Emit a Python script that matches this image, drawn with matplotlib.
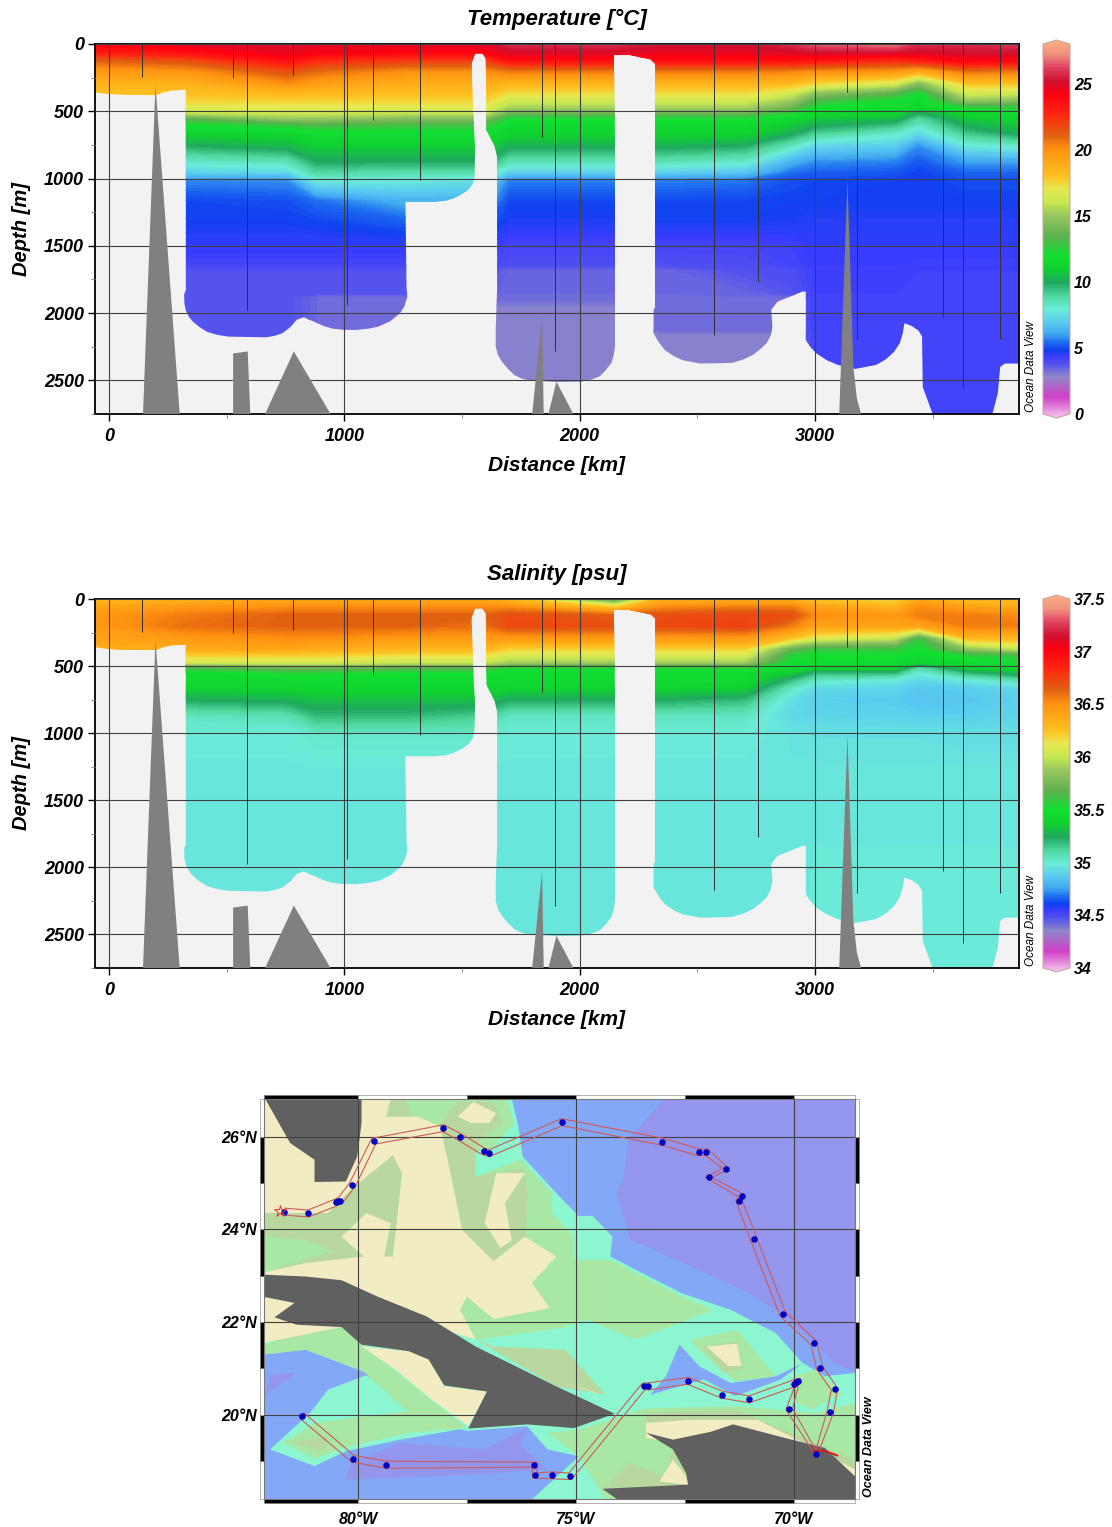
import numpy as np
import matplotlib
matplotlib.use('Agg')
import matplotlib.pyplot as plt
from matplotlib.colors import LinearSegmentedColormap
from matplotlib.patches import Polygon, Rectangle

plt.rcParams['font.family'] = ['Liberation Sans', 'DejaVu Sans']
plt.rcParams['font.weight'] = 'bold'
plt.rcParams['font.style'] = 'italic'
plt.rcParams['axes.titleweight'] = 'bold'
plt.rcParams['axes.labelweight'] = 'bold'

W, H = 1112, 1527

# section data
cols = [-60, 320, 760, 880, 1260, 1600, 1700, 2150, 2350, 2700, 2900, 3000, 3340, 3440, 3650, 3867]

temp_depths = [0, 60, 120, 200, 290, 370, 420, 470, 510, 550, 600, 660, 750, 870, 950, 1010, 1160, 1300,
               1500, 1640, 1680, 1850, 1880, 1950, 2120, 2150, 2750]
temp_rows = [
    [24.0, 24.5, 24.8, 24.5, 24.5, 24.5, 25.5, 25.5, 25.0, 25.0, 25.5, 26.3, 26.8, 25.5, 25.5, 25.8],
    [23.0, 23.5, 24.5, 24.2, 24.0, 24.0, 24.8, 24.8, 24.5, 24.5, 24.8, 25.0, 25.0, 24.8, 25.0, 25.0],
    [21.0, 21.5, 23.5, 22.5, 22.0, 22.0, 23.5, 23.5, 23.5, 23.5, 23.5, 23.3, 22.5, 23.0, 24.0, 23.8],
    [19.6, 19.8, 21.5, 20.8, 20.0, 20.0, 20.5, 20.5, 20.5, 20.5, 20.3, 20.0, 19.8, 19.0, 20.8, 20.5],
    [18.6, 18.6, 20.0, 19.5, 18.8, 18.8, 18.5, 18.5, 18.5, 18.5, 18.3, 17.5, 16.5, 14.5, 18.0, 18.0],
    [18.0, 18.0, 18.3, 18.2, 18.0, 18.0, 17.2, 17.2, 17.2, 17.2, 16.2, 14.5, 13.2, 12.0, 16.2, 16.0],
    [17.5, 17.5, 17.5, 17.5, 17.5, 17.5, 16.2, 16.2, 16.2, 16.2, 15.0, 13.2, 12.0, 11.5, 14.8, 14.5],
    [16.8, 16.8, 16.8, 16.8, 16.8, 16.8, 15.3, 15.3, 15.3, 15.3, 13.8, 12.0, 11.7, 11.3, 12.5, 12.5],
    [16.0, 16.0, 16.2, 16.2, 16.0, 16.0, 14.0, 14.0, 14.0, 14.0, 12.5, 11.5, 11.3, 10.0, 11.5, 11.8],
    [13.5, 13.5, 15.0, 15.0, 14.5, 14.5, 12.2, 12.2, 12.2, 12.2, 11.5, 10.8, 10.5, 9.0, 10.8, 11.2],
    [12.0, 12.0, 12.8, 13.2, 13.0, 13.0, 11.6, 11.6, 11.6, 11.6, 10.8, 10.2, 9.5, 8.3, 10.2, 10.8],
    [11.2, 11.2, 11.3, 11.8, 11.8, 11.8, 11.2, 11.2, 11.2, 11.2, 10.2, 9.2, 8.3, 7.5, 9.4, 10.2],
    [10.0, 10.0, 10.5, 11.0, 11.0, 11.0, 10.3, 10.3, 10.3, 10.0, 8.5, 7.5, 7.2, 6.0, 8.0, 8.3],
    [8.3, 8.3, 8.6, 10.0, 10.0, 10.0, 8.6, 8.6, 8.6, 8.3, 6.5, 6.0, 5.8, 5.3, 6.2, 6.2],
    [7.3, 7.3, 7.5, 9.0, 8.8, 8.8, 7.3, 7.3, 7.3, 7.0, 5.6, 5.4, 5.3, 5.0, 5.5, 5.5],
    [5.9, 5.9, 6.0, 8.0, 8.0, 7.6, 5.8, 5.8, 5.8, 5.7, 5.2, 5.1, 5.0, 5.0, 5.2, 5.2],
    [5.1, 5.1, 5.2, 5.6, 6.5, 6.5, 5.1, 5.1, 5.1, 5.1, 5.0, 5.0, 5.0, 5.0, 5.0, 5.0],
    [5.0, 5.0, 5.0, 5.1, 5.5, 5.5, 4.9, 4.9, 5.0, 5.0, 4.9, 4.8, 4.8, 4.8, 4.8, 4.8],
    [4.6, 4.6, 4.6, 4.6, 4.6, 4.6, 4.3, 4.3, 4.3, 4.3, 4.4, 4.6, 4.6, 4.6, 4.6, 4.6],
    [4.3, 4.3, 4.3, 4.3, 4.3, 4.3, 4.1, 4.1, 4.05, 4.1, 4.3, 4.5, 4.5, 4.45, 4.45, 4.45],
    [4.0, 4.0, 4.0, 4.0, 4.0, 4.0, 3.65, 3.65, 3.65, 4.0, 4.1, 4.45, 4.45, 4.4, 4.4, 4.4],
    [4.0, 4.0, 4.0, 4.0, 4.0, 3.8, 3.6, 3.6, 3.6, 3.65, 3.95, 4.4, 4.4, 4.4, 4.4, 4.4],
    [4.0, 4.0, 4.0, 3.6, 3.6, 3.6, 3.6, 3.6, 3.6, 3.6, 3.6, 4.4, 4.4, 4.4, 4.4, 4.4],
    [4.0, 4.0, 4.0, 3.6, 3.6, 3.2, 3.2, 3.2, 3.6, 3.6, 3.6, 4.4, 4.4, 4.4, 4.4, 4.4],
    [4.0, 4.0, 4.0, 3.6, 3.6, 3.2, 3.2, 3.2, 3.6, 3.6, 3.6, 4.4, 4.4, 4.4, 4.4, 4.4],
    [4.0, 4.0, 4.0, 3.6, 3.6, 3.2, 3.2, 3.2, 3.2, 3.2, 3.2, 4.4, 4.4, 4.4, 4.4, 4.4],
    [4.0, 4.0, 4.0, 3.6, 3.6, 3.2, 3.2, 3.2, 3.2, 3.2, 3.2, 4.4, 4.4, 4.4, 4.4, 4.4],
]

sal_depths = [0, 60, 120, 200, 290, 370, 420, 470, 510, 550, 600, 660, 750, 870, 1010, 1300, 2750]
sal_rows = [
    [36.25, 36.3, 36.35, 36.35, 36.35, 36.35, 36.25, 35.6, 36.3, 36.3, 36.3, 36.2, 36.15, 36.35, 36.25, 36.25],
    [36.4, 36.45, 36.5, 36.5, 36.5, 36.5, 36.5, 36.2, 36.5, 36.55, 36.55, 36.4, 36.3, 36.5, 36.4, 36.35],
    [36.45, 36.55, 36.62, 36.62, 36.62, 36.62, 36.68, 36.62, 36.68, 36.7, 36.68, 36.5, 36.45, 36.55, 36.55, 36.5],
    [36.45, 36.58, 36.62, 36.62, 36.62, 36.58, 36.7, 36.68, 36.7, 36.73, 36.55, 36.4, 36.4, 36.4, 36.55, 36.55],
    [36.4, 36.45, 36.5, 36.5, 36.45, 36.45, 36.45, 36.45, 36.45, 36.45, 36.25, 36.1, 36.0, 35.6, 36.3, 36.3],
    [36.35, 36.35, 36.4, 36.35, 36.3, 36.3, 36.2, 36.2, 36.2, 36.2, 35.7, 35.6, 35.6, 35.5, 35.85, 36.0],
    [36.2, 36.2, 36.2, 36.2, 36.15, 36.15, 36.05, 36.05, 36.05, 36.05, 35.55, 35.5, 35.5, 35.45, 35.55, 35.6],
    [36.05, 36.05, 36.05, 36.05, 36.0, 36.0, 35.9, 35.9, 35.9, 35.9, 35.5, 35.45, 35.45, 35.4, 35.45, 35.5],
    [35.65, 35.65, 35.75, 35.75, 35.7, 35.7, 35.55, 35.55, 35.55, 35.55, 35.45, 35.4, 35.4, 35.1, 35.4, 35.45],
    [35.45, 35.45, 35.55, 35.55, 35.5, 35.5, 35.45, 35.45, 35.45, 35.45, 35.35, 35.2, 35.2, 35.0, 35.2, 35.3],
    [35.45, 35.45, 35.45, 35.45, 35.45, 35.45, 35.45, 35.45, 35.45, 35.45, 35.2, 35.05, 35.0, 34.93, 35.0, 35.1],
    [35.4, 35.4, 35.4, 35.42, 35.42, 35.42, 35.4, 35.4, 35.4, 35.38, 35.05, 34.94, 34.92, 34.88, 34.9, 34.93],
    [35.25, 35.25, 35.28, 35.32, 35.32, 35.32, 35.25, 35.25, 35.25, 35.2, 34.95, 34.9, 34.89, 34.86, 34.88, 34.9],
    [35.05, 35.05, 35.08, 35.2, 35.2, 35.15, 35.05, 35.05, 35.05, 35.05, 34.93, 34.92, 34.91, 34.9, 34.9, 34.92],
    [35.0, 35.0, 35.0, 35.03, 35.03, 35.03, 35.0, 35.0, 35.0, 35.0, 34.97, 34.96, 34.96, 34.96, 34.95, 34.95],
    [34.98, 34.98, 34.98, 34.98, 34.98, 34.98, 34.98, 34.98, 34.98, 34.98, 34.98, 34.98, 34.98, 34.98, 34.98, 34.98],
    [34.98, 34.98, 34.98, 34.98, 34.98, 34.98, 34.98, 34.98, 34.98, 34.98, 34.98, 35.0, 35.0, 35.0, 35.0, 35.0],
]

# edge of the data area (km, m), clockwise from the surface at the left
data_edge = [(-60, 0), (-60, 360), (0, 372), (60, 378), (197, 380), (230, 360), (266, 345), (326, 340), (326, 1830),
             (319, 1860), (320, 1930), (326, 1980), (340, 2030), (357, 2065), (385, 2105), (417, 2140), (460, 2162),
             (508, 2175), (668, 2180), (705, 2168), (736, 2150), (770, 2105), (797, 2050), (827, 2030), (850, 2050),
             (873, 2065), (910, 2095), (948, 2115), (1000, 2125), (1055, 2125), (1105, 2115), (1146, 2100), (1195, 2060),
             (1237, 2000), (1255, 1950), (1267, 1880), (1264, 1805), (1259, 1172), (1381, 1172), (1430, 1165),
             (1464, 1147), (1500, 1115), (1525, 1085), (1545, 1040), (1552, 985), (1555, 790), (1548, 565), (1540, 145),
             (1555, 70), (1586, 70), (1601, 105), (1604, 640), (1639, 760), (1649, 835), (1649, 1830), (1643, 2115),
             (1643, 2250), (1652, 2310), (1669, 2360), (1695, 2415), (1722, 2460), (1750, 2485), (1783, 2500),
             (1900, 2512), (2003, 2510), (2048, 2495), (2085, 2470), (2108, 2430), (2135, 2370), (2145, 2310),
             (2150, 2250), (2150, 790), (2145, 82), (2213, 82), (2302, 115), (2320, 145), (2320, 1960), (2314, 1975),
             (2314, 2150), (2335, 2215), (2362, 2275), (2400, 2320), (2437, 2350), (2512, 2375), (2647, 2370),
             (2695, 2345), (2737, 2310), (2770, 2265), (2796, 2220), (2812, 2165), (2819, 2100), (2814, 1975),
             (2841, 1915), (2946, 1840), (2961, 1840), (2961, 2200), (2980, 2250), (3006, 2300), (3050, 2350),
             (3096, 2385), (3171, 2415), (3260, 2385), (3300, 2345), (3335, 2290), (3360, 2225), (3373, 2150),
             (3380, 2075), (3410, 2095), (3440, 2130), (3455, 2175), (3458, 2550), (3500, 2750), (3754, 2750),
             (3777, 2595), (3787, 2400), (3807, 2375), (3867, 2375), (3867, 0)]

# sea floor polygons (km, m)
floor_x = [[144, 197, 300], [527, 527, 589, 600], [663, 785, 941], [1798, 1840, 1847], [1867, 1901, 1973],
           [3103, 3138, 3163, 3178, 3196]]
floor_y = [[2750, 305, 2750], [2750, 2300, 2285, 2750], [2750, 2285, 2750], [2750, 2030, 2750], [2750, 2510, 2750],
           [2750, 1012, 2400, 2635, 2750]]

# station lines (km, deepest sample in m)
stn_x = [141, 527, 587, 781, 1009, 1123, 1320, 1840, 1897, 2572, 2756, 3138, 3178, 3545, 3627, 3787]
stn_depth = [243, 255, 1975, 230, 1940, 565, 1010, 690, 2285, 2165, 1770, 355, 2190, 2030, 2560, 2190]

# colour bar
cbar_fracs = [0, 1.5, 3, 4, 4.5, 5, 5.6, 6.2, 7, 8, 9, 10, 11, 12, 13.5, 15, 16, 17, 18, 20, 21, 22.5, 24, 25, 26, 27, 28]
cbar_colors = ['#f4c4ec', '#d040c8', '#9088c8', '#5050f0', '#3c3cff', '#1040f0', '#2070f0', '#40a8f0', '#58c8f0',
               '#6cecd8', '#50d8a0', '#20a860', '#10d030', '#10e030', '#60b050', '#98c860', '#c8e850', '#e8e850',
               '#ffc020', '#ff9010', '#e06010', '#ff2810', '#ff0010', '#d01030', '#e04060', '#f09080', '#fcb080']
temp_ticks = [0, 5, 10, 15, 20, 25]
sal_ticks = [34, 34.5, 35, 35.5, 36, 36.5, 37, 37.5]

# map data
lon_ticks = [-80, -75, -70]
lat_ticks = [20, 22, 24, 26]
stn_lon = [-81.69, -81.14, -80.5, -80.46, -80.41, -80.13, -79.64, -78.04, -77.65, -77.12, -76.99, -75.32, -73.02,
           -72.18, -72.0, -71.55, -71.95, -71.19, -71.25, -70.92, -70.25, -69.54, -69.4, -69.06, -69.16, -69.48,
           -70.1, -69.9, -69.95, -70.0, -71.02, -71.64, -72.42, -73.34, -73.44, -75.13, -75.55, -75.94, -75.95,
           -79.35, -80.12, -81.29]
stn_lat = [24.38, 24.34, 24.58, 24.6, 24.62, 24.96, 25.9, 26.18, 25.98, 25.68, 25.64, 26.31, 25.89, 25.66, 25.66,
           25.31, 25.12, 24.72, 24.61, 23.8, 22.17, 21.55, 21.01, 20.55, 20.05, 19.16, 20.12, 20.72, 20.7, 20.67,
           20.33, 20.43, 20.73, 20.61, 20.61, 18.67, 18.69, 18.69, 18.92, 18.92, 19.05, 19.98]

c_teal = '#8cf6d0'
c_purple = '#9496ee'
c_blue = '#84a8f8'
c_green = '#a8e8a4'
c_sage = '#b8d8a0'
c_beige = '#f2ecc2'
c_land = '#606060'

purple_ne = [(-72.98, 26.81), (-73.8, 25.93), (-73.91, 25.07), (-74.06, 24.78), (-73.91, 24.28), (-73.75, 23.77),
             (-72.36, 23.2), (-71.03, 22.62), (-70.31, 22.19), (-69.59, 21.62), (-69.08, 21.11), (-68.59, 20.93),
             (-68.59, 26.81)]
blue_ne = [(-76.47, 26.81), (-76.32, 26.22), (-76.22, 25.57), (-75.45, 24.78), (-74.93, 24.28), (-74.62, 24.29),
           (-74.16, 23.84), (-74.21, 23.41), (-72.57, 22.62), (-71.44, 22.26), (-70.41, 21.76), (-69.79, 21.11),
           (-69.28, 20.83), (-68.59, 20.9), (-68.59, 26.81)]
green_n = [(-79.25, 26.81), (-76.58, 26.81), (-76.42, 26.29), (-76.99, 25.68), (-77.61, 25.75), (-77.3, 25.14),
           (-76.27, 25.5), (-75.55, 24.78), (-75.55, 24.35), (-75.04, 23.84), (-75.04, 23.34), (-74.21, 23.34),
           (-72.57, 22.55), (-71.85, 22.26), (-73.64, 21.62), (-74.73, 22.05), (-75.34, 21.87), (-77.3, 21.62),
           (-78.43, 22.12), (-79.25, 24.35)]
sage_n = [(-78.12, 26.29), (-77.71, 26.75), (-76.89, 26.75), (-76.68, 26.29), (-77.2, 25.95), (-77.3, 25.6),
          (-77.3, 25.14), (-76.2, 25.3), (-76.1, 24.75), (-76.17, 23.77), (-76.89, 23.14), (-77.61, 23.99), (-77.91, 25.35)]
sage_top = [(-79.25, 26.81), (-78.95, 26.81), (-78.75, 26.43), (-79.35, 26.43)]
beige_main = [(-82.16, 26.81), (-79.25, 26.81), (-79.35, 26.43), (-78.63, 26.43), (-78.12, 26.22), (-77.91, 25.35),
              (-77.61, 23.99), (-76.89, 23.31), (-76.17, 23.84), (-75.45, 23.41), (-76.01, 22.84), (-75.6, 22.3),
              (-76.89, 22.06), (-77.5, 22.55), (-77.66, 22.26), (-77.3, 21.62), (-79.0, 22.1), (-82.16, 23.0)]
beige_finger = [(-76.83, 25.21), (-76.17, 25.21), (-76.63, 24.56), (-76.47, 23.77), (-76.73, 23.59), (-77.09, 24.13)]
beige_top = [(-77.71, 26.43), (-77.35, 26.75), (-76.83, 26.5), (-76.99, 26.29), (-77.4, 26.29)]
sage_left = [(-82.16, 24.35), (-80.69, 24.35), (-80.17, 24.85), (-79.2, 25.6), (-78.99, 25.21), (-79.2, 23.41),
             (-79.4, 23.41), (-79.25, 24.13), (-79.81, 24.35), (-80.38, 23.84), (-79.87, 23.41), (-81.2, 23.27),
             (-82.16, 23.07)]
green_left = [(-82.16, 23.84), (-81.2, 23.77), (-80.59, 23.52), (-81.61, 23.23), (-82.16, 23.07)]
beige_w = [(-82.16, 23.0), (-80.5, 22.9), (-80.38, 21.89), (-82.16, 21.55)]
green_sw = [(-82.16, 21.5), (-81.2, 21.83), (-80.28, 21.87), (-79.56, 21.26), (-78.53, 20.47), (-77.5, 19.71),
            (-78.9, 20.1), (-79.9, 20.95), (-81.2, 21.4), (-82.16, 21.3)]
beige_sw = [(-79.92, 21.47), (-78.84, 21.37), (-78.38, 21.19), (-78.02, 20.61), (-77.04, 20.5), (-77.47, 19.75),
            (-78.32, 20.33), (-79.14, 20.97)]
sage_cuba = [(-77.3, 21.62), (-76.89, 21.47), (-75.24, 21.4), (-74.32, 20.43), (-75.45, 20.61)]
beige_cuba = [(-75.5, 20.75), (-74.42, 20.43), (-74.6, 20.5)]
blue_sw = [(-82.16, 21.3), (-81.2, 21.4), (-79.81, 20.9), (-79.0, 20.0), (-77.5, 19.65), (-76.12, 19.75), (-75.65, 19.25),
           (-74.93, 19.1), (-76.0, 18.18), (-82.16, 18.18)]
teal_sw = [(-82.02, 19.25), (-81.1, 20.04), (-80.69, 20.54), (-79.81, 20.85), (-78.32, 20.04), (-77.5, 19.71),
           (-79.04, 19.46), (-80.28, 19.21), (-81.0, 18.89)]
green_sw2 = [(-81.72, 19.39), (-81.0, 19.82), (-79.92, 19.96), (-78.6, 20.1), (-77.5, 19.72), (-78.9, 19.6),
             (-80.28, 19.3), (-81.0, 19.05)]
sage_sw = [(-81.51, 19.39), (-80.69, 19.54), (-80.79, 19.21)]
purple_s = [(-80.28, 18.6), (-80.17, 18.96), (-79.04, 19.39), (-77.09, 19.25), (-76.12, 19.71), (-76.27, 19.32),
            (-75.65, 18.82), (-77.5, 18.7)]
purple_w = [(-82.16, 20.38), (-82.02, 20.86), (-81.41, 20.9), (-81.87, 20.61)]
green_s = [(-75.65, 19.61), (-74.93, 19.68), (-73.39, 20.14), (-71.34, 20.18), (-69.49, 20.04), (-68.59, 20.25),
           (-68.59, 18.6), (-74.32, 18.18), (-74.93, 19.1)]
sage_s = [(-73.39, 20.04), (-71.34, 20.11), (-68.59, 19.03), (-68.59, 18.7), (-73.39, 19.5)]
beige_s = [(-73.39, 19.82), (-72.36, 19.89), (-70.82, 19.89), (-68.59, 18.82), (-68.59, 18.6), (-73.39, 19.5)]
sage_haiti = [(-74.37, 18.42), (-73.8, 18.96), (-72.98, 18.67), (-72.77, 19.25), (-72.36, 18.46)]
beige_haiti = [(-72.77, 19.03), (-72.47, 18.67), (-72.42, 18.49), (-73.08, 18.56)]
green_e = [(-69.99, 20.83), (-69.5, 20.97), (-68.87, 20.47), (-69.59, 20.11), (-70.05, 20.3)]
blue_i = [(-72.62, 21.51), (-72.16, 21.04), (-71.44, 20.68), (-70.41, 20.83), (-69.79, 21.11), (-70.31, 20.75),
          (-71.34, 20.4), (-72.06, 20.76), (-73.29, 20.43), (-72.93, 20.83)]
green_i = [(-72.36, 21.62), (-71.3, 21.83), (-70.41, 20.83), (-71.34, 20.72), (-72.26, 21.47)]
sage_i = [(-72.1, 21.47), (-71.3, 21.58), (-71.18, 21.0), (-71.6, 20.9)]
beige_i = [(-72.0, 21.47), (-71.3, 21.53), (-71.2, 21.05), (-71.5, 21.05)]
land_fl = [(-82.13, 26.81), (-79.92, 26.81), (-79.92, 26.29), (-80.02, 25.57), (-80.28, 25.03), (-81.0, 25.02),
           (-81.0, 25.5), (-81.56, 25.86)]
land_cuba = [(-82.16, 23.02), (-81.2, 22.98), (-80.38, 22.9), (-79.56, 22.55), (-78.43, 22.12), (-77.3, 21.47),
             (-75.45, 20.61), (-74.11, 20.02), (-75.04, 19.71), (-76.12, 19.79), (-77.47, 19.7), (-77.04, 20.5),
             (-78.02, 20.63), (-78.38, 21.19), (-78.84, 21.37), (-79.92, 21.51), (-80.38, 21.89), (-81.41, 21.94),
             (-81.92, 22.1), (-81.46, 22.41), (-82.16, 22.54)]
land_hisp = [(-73.39, 19.61), (-72.77, 19.46), (-71.9, 19.63), (-71.39, 19.79), (-70.21, 19.5), (-69.28, 19.28),
             (-68.59, 18.67), (-68.59, 18.18), (-74.06, 18.18), (-74.39, 18.4), (-72.42, 18.49), (-72.47, 18.74),
             (-72.77, 19.25)]

map_layers = [(blue_ne, c_blue), (purple_ne, c_purple), (blue_sw, c_blue), (teal_sw, c_teal), (purple_s, c_purple),
              (purple_w, c_purple), (green_sw2, c_green), (sage_sw, c_sage), (green_s, c_green), (sage_s, c_sage),
              (beige_s, c_beige), (sage_haiti, c_sage), (beige_haiti, c_beige), (green_n, c_green), (sage_n, c_sage),
              (sage_cuba, c_sage), (beige_cuba, c_beige), (beige_main, c_beige), (beige_finger, c_beige),
              (beige_top, c_beige), (sage_top, c_sage), (sage_left, c_sage), (green_left, c_green), (green_sw, c_green),
              (beige_w, c_beige), (beige_sw, c_beige), (blue_i, c_blue), (green_i, c_green), (sage_i, c_sage),
              (beige_i, c_beige), (green_e, c_green), (land_fl, c_land), (land_cuba, c_land), (land_hisp, c_land)]


def add_ax(left, top, right, bottom):
    return fig.add_axes([left / W, 1 - bottom / H, (right - left) / W, (bottom - top) / H])


def section(top, bottom, depths, rows, vmin, vmax, title):
    ax = add_ax(95, top, 1019, bottom)
    ax.set_facecolor('#f2f2f2')
    levels = np.linspace(vmin, vmax, 281)
    cs = ax.contourf(cols, depths, rows, levels=levels, cmap=odv, extend='both')
    clip = Polygon(data_edge, closed=True, transform=ax.transData)
    cs.set_clip_path(clip)
    for fx, fy in zip(floor_x, floor_y):
        ax.fill(fx, fy, color='#808080', lw=0, zorder=3)
    ax.vlines(stn_x, 0, stn_depth, color='#303030', lw=0.7, zorder=4)
    ax.set_xlim(-60, 3867)
    ax.set_ylim(2750, 0)
    ax.set_xticks([0, 1000, 2000, 3000])
    ax.set_xticks([500, 1500, 2500, 3500], minor=True)
    ax.set_yticks([0, 500, 1000, 1500, 2000, 2500])
    ax.set_yticks([250, 750, 1250, 1750, 2250, 2750], minor=True)
    ax.grid(True, which='major', color='#404040', lw=0.8, zorder=4)
    ax.set_axisbelow(False)
    ax.tick_params(which='major', length=5, width=1, labelsize=13)
    ax.tick_params(axis='x', which='major', pad=5)
    ax.tick_params(axis='y', which='major', pad=3)
    ax.tick_params(which='minor', length=3, width=0.6, color='#777777')
    for s in ax.spines.values():
        s.set_linewidth(1.3)
    ax.set_title(title, fontsize=16, pad=14)
    ax.set_xlabel('Distance [km]', fontsize=15, labelpad=8)
    ax.set_ylabel('Depth [m]', fontsize=14.5, labelpad=9)
    fig.text(1031 / W, 1 - (bottom - 2) / H, 'Ocean Data View', rotation=90, fontsize=8.5, ha='center', va='bottom',
             fontweight='normal')
    return ax


def colorbar(top, bottom, vmin, vmax, ticks):
    tip = 4 * (vmax - vmin) / (bottom - top)
    cax = add_ax(1043, top - 4, 1070, bottom + 4)
    cax.set_xlim(0, 1)
    cax.set_ylim(vmin - tip, vmax + tip)
    grad = np.linspace(vmin, vmax, 400).reshape(-1, 1)
    im = cax.imshow(grad, extent=[0, 1, vmin - tip, vmax + tip], origin='lower', aspect='auto', cmap=odv, vmin=vmin, vmax=vmax)
    hexa = Polygon([(0, vmin), (0.5, vmin - tip), (1, vmin), (1, vmax), (0.5, vmax + tip), (0, vmax)], closed=True,
                   fc='none', ec='#c8a8a8', lw=0.8, transform=cax.transData, clip_on=False)
    cax.add_patch(hexa)
    im.set_clip_path(hexa)
    cax.patch.set_visible(False)
    for s in cax.spines.values():
        s.set_visible(False)
    cax.set_xticks([])
    cax.yaxis.tick_right()
    cax.set_yticks(ticks)
    cax.set_yticklabels(['%g' % t for t in ticks])
    cax.tick_params(axis='y', length=0, labelsize=11.5, pad=3)


def offset_track(lon, lat, d):
    # parallel line beside the cruise track
    pts = np.column_stack([lon, lat])
    seg = np.diff(pts, axis=0)
    nrm = np.column_stack([-seg[:, 1], seg[:, 0]])
    nrm = nrm / np.maximum(np.linalg.norm(nrm, axis=1, keepdims=True), 1e-6)
    vn = np.zeros_like(pts)
    vn[:-1] += nrm
    vn[1:] += nrm
    vn = vn / np.maximum(np.linalg.norm(vn, axis=1, keepdims=True), 1e-6)
    return pts + d * vn


fig = plt.figure(figsize=(W / 100, H / 100), dpi=100, facecolor='white')
fracs = np.array(cbar_fracs) / 28.0
odv = LinearSegmentedColormap.from_list('odv', list(zip(fracs, cbar_colors)), N=512)

section(44, 414, temp_depths, temp_rows, 0, 28, 'Temperature [°C]')
colorbar(44, 414, 0, 28, temp_ticks)
section(599, 968, sal_depths, sal_rows, 34, 37.5, 'Salinity [psu]')
colorbar(599, 968, 34, 37.5, sal_ticks)

# station map
mp = add_ax(264, 1099, 855, 1499)
mp.set_facecolor(c_teal)
for poly, col in map_layers:
    mp.add_patch(Polygon(poly, closed=True, fc=col, ec='none', zorder=1))
mp.set_xlim(-82.16, -68.59)
mp.set_ylim(18.18, 26.81)
mp.set_xticks(lon_ticks)
mp.set_xticklabels(['%d°W' % abs(v) for v in lon_ticks])
mp.set_yticks(lat_ticks)
mp.set_yticklabels(['%d°N' % v for v in lat_ticks])
mp.tick_params(length=0, labelsize=11.5)
mp.tick_params(axis='x', pad=9)
mp.tick_params(axis='y', pad=5)
mp.grid(True, color='#404040', lw=0.8, zorder=2)
mp.set_axisbelow(False)
for s in mp.spines.values():
    s.set_linewidth(0.8)
    s.set_color('#777777')

for side in (1, -1):
    line = offset_track(stn_lon, stn_lat, 0.075 * side)
    mp.plot(line[:, 0], line[:, 1], color='#cc5a5a', lw=0.8, zorder=5)
mp.scatter(stn_lon, stn_lat, s=22, color='#0000c0', zorder=6, lw=0)
mp.plot([-81.8], [24.4], marker='*', ms=9, mfc='none', mec='#e04030', mew=0.7, zorder=6)
mp.plot([-69.55, -69.3, -69.0], [19.22, 19.22, 19.12], color='#d02020', lw=1.5, zorder=5)

# black and white border of the map
tx = mp.get_xaxis_transform()
ty = mp.get_yaxis_transform()
lon_edges = [-82.16, -80, -77.5, -75, -72.5, -70, -68.59]
lat_edges = [18.18, 19, 20, 21, 22, 23, 24, 25, 26, 26.81]
bar_w = 4 / 591
bar_h = 4 / 400
for i in range(len(lon_edges) - 1):
    col = 'black' if i % 2 == 0 else 'white'
    for y0 in (1, -bar_h):
        mp.add_patch(Rectangle((lon_edges[i], y0), lon_edges[i + 1] - lon_edges[i], bar_h, transform=tx, fc=col,
                               ec='#777777', lw=0.4, clip_on=False))
for i in range(len(lat_edges) - 1):
    col = 'white' if i % 2 == 0 else 'black'
    for x0 in (1, -bar_w):
        mp.add_patch(Rectangle((x0, lat_edges[i]), bar_w, lat_edges[i + 1] - lat_edges[i], transform=ty, fc=col,
                               ec='#777777', lw=0.4, clip_on=False))

fig.text(869 / W, 1 - 1497 / H, 'Ocean Data View', rotation=90, fontsize=9, ha='center', va='bottom')

fig.savefig('out.png', dpi=100)
